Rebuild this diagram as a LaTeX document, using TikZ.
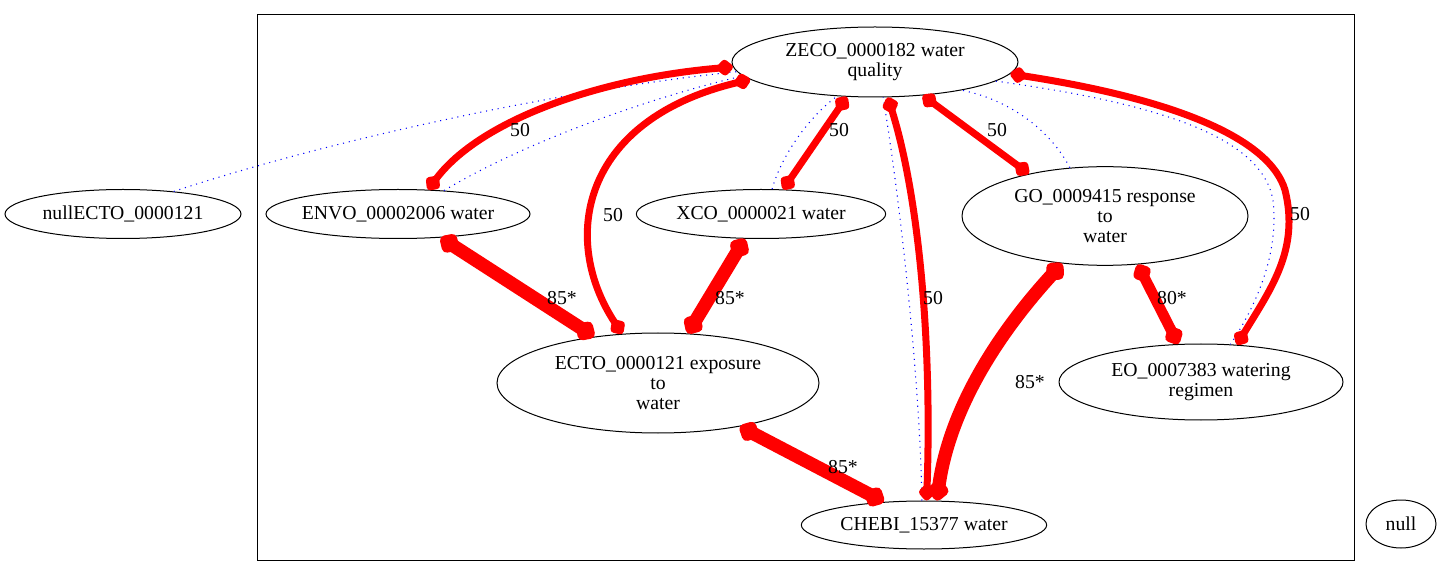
\documentclass[tikz,border=0pt]{standalone}
\usepackage{fontspec}
\setmainfont{Liberation Serif}
\usetikzlibrary{shapes.geometric,arrows.meta}

\begin{document}
\begin{tikzpicture}[x=0.75pt,y=0.75pt,yscale=-1,xscale=1,
  font=\fontsize{14.8}{15}\selectfont,
  term/.style={draw, ellipse, line width=0.75pt, inner xsep=-4pt, inner ysep=0pt, align=center},
  lbl/.style={inner sep=0.75pt},
  >={Diamond[length=10pt 0.9,width=9pt 0.9,round]},
  link/.style={draw=red, line width=5.25pt, <->},
  mid/.style={link, line width=8pt},
  strong/.style={link, line width=10pt},
  hint/.style={draw=blue, line width=0.8pt, dash pattern=on 0.8pt off 3.6pt}]
  \useasboundingbox (0,0) rectangle (1443,577);

  %Cluster box
  \draw [line width=0.75pt] (257,15) rectangle (1354,560) ;

  %Terms
  \node [term, minimum width=214.5pt, minimum height=52.5pt] (zeco) at (875,62) {ZECO\_0000182 water\\quality};
  \node [term, minimum width=177pt, minimum height=36.75pt] (nullecto) at (123,214) {nullECTO\_0000121};
  \node [term, minimum width=198pt, minimum height=36.75pt] (envo) at (398,214) {ENVO\_00002006 water};
  \node [term, minimum width=187pt, minimum height=36.75pt] (xco) at (761,214) {XCO\_0000021 water};
  \node [term, minimum width=214.5pt, minimum height=74pt] (go) at (1105,216) {GO\_0009415 response\\to\\water};
  \node [term, minimum width=241.5pt, minimum height=75pt] (ecto) at (658,383) {ECTO\_0000121 exposure\\to\\water};
  \node [term, minimum width=213pt, minimum height=57pt] (eo) at (1201,382) {EO\_0007383 watering\\regimen};
  \node [term, minimum width=184pt, minimum height=36pt] (chebi) at (924,525) {CHEBI\_15377 water};
  \node [term, minimum width=52.5pt, minimum height=36pt] (null) at (1401,524) {null};

  %Dotted links
  \draw [hint] (nullecto.24) .. controls (330,140) and (560,90) .. (zeco.184) ;
  \draw [hint] (envo.27) .. controls (520,145) and (640,100) .. (zeco.186) ;
  \draw [hint] (xco.66) .. controls (780,160) and (805,120) .. (zeco.222) ;
  \draw [hint] (chebi.95) .. controls (920,380) and (900,200) .. (zeco.283) ;
  \draw [hint] (go.126) .. controls (1050,130) and (1010,100) .. (zeco.342) ;
  \draw [hint] (zeco.351) .. controls (1170,105) and (1262,140) .. (1273,200) .. controls (1280,260) and (1250,315) .. (eo.52) ;

  %Red links
  \draw [link] (zeco.182) .. controls (600,78) and (480,120) .. (envo.39) ;
  \draw [link] (zeco.188) .. controls (580,120) and (560,240) .. (ecto.126) ;
  \draw [link] (zeco.231) -- (xco.48) ;
  \draw [link] (zeco.290) .. controls (920,200) and (932,350) .. (chebi.84) ;
  \draw [link] (zeco.325) -- (go.151) ;
  \draw [link] (zeco.355) .. controls (1180,100) and (1270,140) .. (1285,190) .. controls (1300,250) and (1270,290) .. (eo.46) ;
  \draw [strong] (envo.331) -- (ecto.144) ;
  \draw [strong] (xco.237) -- (ecto.59) ;
  \draw [strong] (go.228) .. controls (1010,320) and (950,400) .. (chebi.62) ;
  \draw [mid] (go.304) -- (eo.121) ;
  \draw [strong] (ecto.332) -- (chebi.150) ;

  %Weights
  \node [lbl] (w1) at (520,130) {50};
  \node [lbl] (w2) at (613,215) {50};
  \node [lbl] (w3) at (839,130) {50};
  \node [lbl] (w4) at (933,298) {50};
  \node [lbl] (w5) at (997,130) {50};
  \node [lbl] (w6) at (1300,214) {50};
  \node [lbl] (w7) at (562,298) {85*};
  \node [lbl] (w8) at (730,298) {85*};
  \node [lbl] (w9) at (1030,382) {85*};
  \node [lbl] (w10) at (1172,298) {80*};
  \node [lbl] (w11) at (843,467) {85*};

\end{tikzpicture}
\end{document}
